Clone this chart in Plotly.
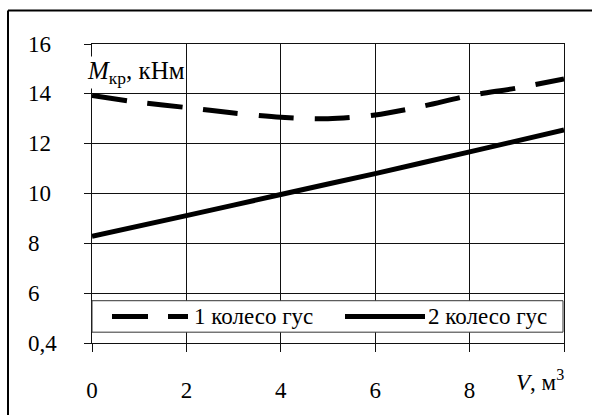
import plotly.graph_objects as go

# Volume V, m^3
volume_dashed = [0, 1, 2, 3, 4, 5, 6, 7, 8, 9, 10]
torque_wheel1 = [13.93, 13.66, 13.45, 13.23, 13.06, 13.0, 13.15, 13.5, 13.93, 14.23, 14.6]

volume_solid = [0, 2, 4, 6, 8, 10]
torque_wheel2 = [8.28, 9.11, 9.96, 10.8, 11.67, 12.55]

series_names = ["1 колесо гус", "2 колесо гус"]

x_ticks = [0, 2, 4, 6, 8, 10]
x_tick_text = ["0", "2", "4", "6", "8", " "]
y_ticks = [4, 6, 8, 10, 12, 14, 16]
y_tick_text = ["0,4", "6", "8", "10", "12", "14", "16"]

FONT = "Times New Roman"
FS = 23
INK = "#000000"
GRID = "#111111"

# plot area in pixels (592x415 canvas)
L, R, T, B = 92, 564, 44, 348
PW, PH = R - L, B - T


def px_x(x):
    return (x - L) / PW


def px_y(y):
    return (B - y) / PH


fig = go.Figure()
fig.add_trace(go.Scatter(
    x=volume_dashed, y=torque_wheel1, mode="lines", name=series_names[0],
    line=dict(color=INK, width=5, dash="35px,21px", shape="spline", smoothing=0.8),
    showlegend=False,
))
fig.add_trace(go.Scatter(
    x=volume_solid, y=torque_wheel2, mode="lines", name=series_names[1],
    line=dict(color=INK, width=5, shape="spline", smoothing=0.8),
    showlegend=False,
))

shapes = [
    # frame (top and left edges)
    dict(type="line", xref="paper", yref="paper", x0=px_x(8), x1=px_x(610),
         y0=px_y(10), y1=px_y(10), line=dict(color=INK, width=2)),
    dict(type="line", xref="paper", yref="paper", x0=px_x(8), x1=px_x(8),
         y0=px_y(10), y1=px_y(430), line=dict(color=INK, width=2)),
    # legend box
    dict(type="rect", xref="paper", yref="paper", x0=0, x1=px_x(563),
         y0=px_y(337), y1=px_y(305), fillcolor="white",
         line=dict(color="#333333", width=1), layer="above"),
    dict(type="line", xref="paper", yref="paper", x0=px_x(112), x1=px_x(188),
         y0=px_y(321), y1=px_y(321),
         line=dict(color=INK, width=5, dash="36px,20px"), layer="above"),
    dict(type="line", xref="paper", yref="paper", x0=px_x(345), x1=px_x(425),
         y0=px_y(321), y1=px_y(321),
         line=dict(color=INK, width=5), layer="above"),
]

annotations = [
    dict(text=series_names[0], xref="paper", yref="paper", x=px_x(192), y=px_y(321),
         xanchor="left", yanchor="middle", showarrow=False,
         font=dict(family=FONT, size=FS, color=INK)),
    dict(text=series_names[1], xref="paper", yref="paper", x=px_x(426), y=px_y(321),
         xanchor="left", yanchor="middle", showarrow=False,
         font=dict(family=FONT, size=FS, color=INK)),
    dict(text="<i>M</i><sub>кр</sub>, кНм", xref="paper", yref="paper",
         x=px_x(86), y=px_y(73), xanchor="left", yanchor="middle", showarrow=False,
         bgcolor="white", borderpad=0,
         font=dict(family=FONT, size=25, color=INK)),
    dict(text="<i>V</i>, м<sup>3</sup>", xref="paper", yref="paper",
         x=px_x(514), y=px_y(386), xanchor="left", yanchor="middle", showarrow=False,
         font=dict(family=FONT, size=FS, color=INK)),
]

# y tick labels, left-aligned
for v, t in zip(y_ticks, y_tick_text):
    annotations.append(dict(
        text=t, xref="paper", yref="y", x=px_x(26), y=v,
        xanchor="left", yanchor="middle", showarrow=False,
        font=dict(family=FONT, size=FS, color=INK)))

fig.update_layout(
    width=592, height=415,
    margin=dict(l=L, r=592 - R, t=T, b=415 - B),
    paper_bgcolor="white", plot_bgcolor="white",
    font=dict(family=FONT, size=FS, color=INK),
    shapes=shapes, annotations=annotations,
    showlegend=False,
    xaxis=dict(
        range=[0, 10], tickvals=x_ticks, ticktext=x_tick_text,
        showgrid=True, gridcolor=GRID, gridwidth=1.3, zeroline=False,
        showline=True, mirror=True, linecolor=GRID, linewidth=1.3,
        ticks="outside", ticklen=8, tickwidth=1.3, tickcolor=GRID,
        ticklabelstandoff=18,
        tickfont=dict(family=FONT, size=FS, color=INK),
    ),
    yaxis=dict(
        range=[4, 16], tickvals=y_ticks, showticklabels=False,
        showgrid=True, gridcolor=GRID, gridwidth=1.3, zeroline=False,
        showline=True, mirror=True, linecolor=GRID, linewidth=1.3,
        ticks="outside", ticklen=7, tickwidth=1.3, tickcolor=GRID,
    ),
)

fig.write_html("out.html")
